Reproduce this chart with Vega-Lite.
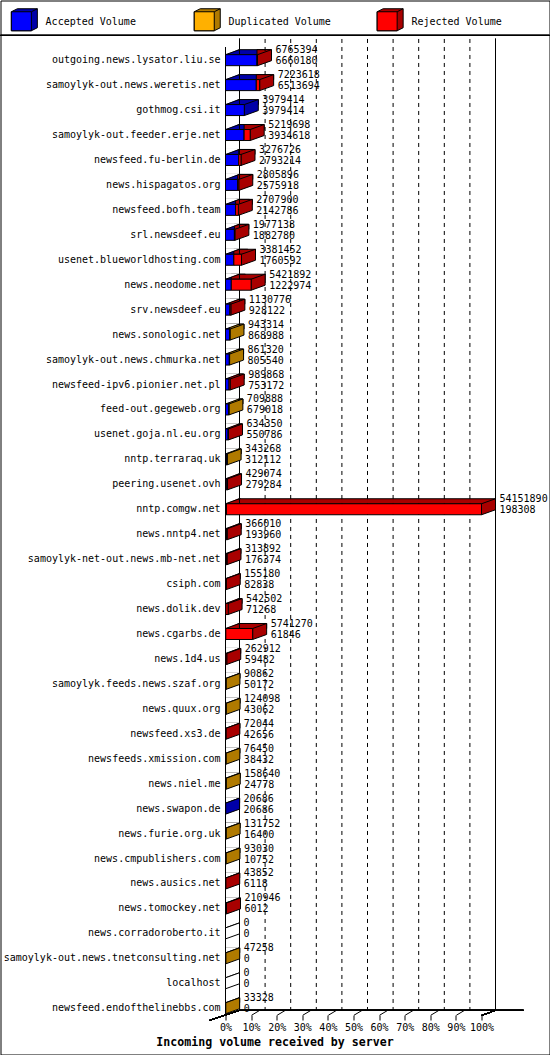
{
  "$schema": "https://vega.github.io/schema/vega-lite/v6.json",
  "autosize": "none",
  "width": 549,
  "height": 1054,
  "padding": 0.5,
  "background": "white",
  "config": {
    "view": {"stroke": "black", "strokeWidth": 1},
    "font": "DejaVu Sans Mono"
  },
  "datasets": {
    "grid": [
      {"p": 5415189}, {"p": 10830378}, {"p": 16245567}, {"p": 21660756}, {"p": 27075945},
      {"p": 32491134}, {"p": 37906323}, {"p": 43321512}, {"p": 48736701}
    ]
  },
  "data": {
    "values": [
      {"h": "outgoing.news.lysator.liu.se", "Accepted Volume": 6660180, "Duplicated Volume": 0, "Rejected Volume": 105214, "t": 6765394, "last": "Rejected Volume"},
      {"h": "samoylyk-out.news.weretis.net", "Accepted Volume": 6513694, "Duplicated Volume": 0, "Rejected Volume": 709924, "t": 7223618, "last": "Rejected Volume"},
      {"h": "gothmog.csi.it", "Accepted Volume": 3979414, "Duplicated Volume": 0, "Rejected Volume": 0, "t": 3979414, "last": "Accepted Volume"},
      {"h": "samoylyk-out.feeder.erje.net", "Accepted Volume": 3934618, "Duplicated Volume": 0, "Rejected Volume": 1285080, "t": 5219698, "last": "Rejected Volume"},
      {"h": "newsfeed.fu-berlin.de", "Accepted Volume": 2793214, "Duplicated Volume": 0, "Rejected Volume": 483512, "t": 3276726, "last": "Rejected Volume"},
      {"h": "news.hispagatos.org", "Accepted Volume": 2575918, "Duplicated Volume": 0, "Rejected Volume": 229978, "t": 2805896, "last": "Rejected Volume"},
      {"h": "newsfeed.bofh.team", "Accepted Volume": 2142786, "Duplicated Volume": 0, "Rejected Volume": 565114, "t": 2707900, "last": "Rejected Volume"},
      {"h": "srl.newsdeef.eu", "Accepted Volume": 1882780, "Duplicated Volume": 0, "Rejected Volume": 94358, "t": 1977138, "last": "Rejected Volume"},
      {"h": "usenet.blueworldhosting.com", "Accepted Volume": 1760592, "Duplicated Volume": 0, "Rejected Volume": 1620860, "t": 3381452, "last": "Rejected Volume"},
      {"h": "news.neodome.net", "Accepted Volume": 1222974, "Duplicated Volume": 0, "Rejected Volume": 4198918, "t": 5421892, "last": "Rejected Volume"},
      {"h": "srv.newsdeef.eu", "Accepted Volume": 928122, "Duplicated Volume": 0, "Rejected Volume": 202654, "t": 1130776, "last": "Rejected Volume"},
      {"h": "news.sonologic.net", "Accepted Volume": 868988, "Duplicated Volume": 74326, "Rejected Volume": 0, "t": 943314, "last": "Duplicated Volume"},
      {"h": "samoylyk-out.news.chmurka.net", "Accepted Volume": 805540, "Duplicated Volume": 55780, "Rejected Volume": 0, "t": 861320, "last": "Duplicated Volume"},
      {"h": "newsfeed-ipv6.pionier.net.pl", "Accepted Volume": 753172, "Duplicated Volume": 0, "Rejected Volume": 236696, "t": 989868, "last": "Rejected Volume"},
      {"h": "feed-out.gegeweb.org", "Accepted Volume": 679018, "Duplicated Volume": 30870, "Rejected Volume": 0, "t": 709888, "last": "Duplicated Volume"},
      {"h": "usenet.goja.nl.eu.org", "Accepted Volume": 550786, "Duplicated Volume": 0, "Rejected Volume": 83564, "t": 634350, "last": "Rejected Volume"},
      {"h": "nntp.terraraq.uk", "Accepted Volume": 312112, "Duplicated Volume": 31156, "Rejected Volume": 0, "t": 343268, "last": "Duplicated Volume"},
      {"h": "peering.usenet.ovh", "Accepted Volume": 279284, "Duplicated Volume": 0, "Rejected Volume": 149790, "t": 429074, "last": "Rejected Volume"},
      {"h": "nntp.comgw.net", "Accepted Volume": 198308, "Duplicated Volume": 0, "Rejected Volume": 53953582, "t": 54151890, "last": "Rejected Volume"},
      {"h": "news.nntp4.net", "Accepted Volume": 193960, "Duplicated Volume": 0, "Rejected Volume": 172050, "t": 366010, "last": "Rejected Volume"},
      {"h": "samoylyk-net-out.news.mb-net.net", "Accepted Volume": 176374, "Duplicated Volume": 0, "Rejected Volume": 137518, "t": 313892, "last": "Rejected Volume"},
      {"h": "csiph.com", "Accepted Volume": 82838, "Duplicated Volume": 0, "Rejected Volume": 72342, "t": 155180, "last": "Rejected Volume"},
      {"h": "news.dolik.dev", "Accepted Volume": 71268, "Duplicated Volume": 0, "Rejected Volume": 471234, "t": 542502, "last": "Rejected Volume"},
      {"h": "news.cgarbs.de", "Accepted Volume": 61846, "Duplicated Volume": 0, "Rejected Volume": 5679424, "t": 5741270, "last": "Rejected Volume"},
      {"h": "news.1d4.us", "Accepted Volume": 59482, "Duplicated Volume": 0, "Rejected Volume": 203430, "t": 262912, "last": "Rejected Volume"},
      {"h": "samoylyk.feeds.news.szaf.org", "Accepted Volume": 50172, "Duplicated Volume": 40690, "Rejected Volume": 0, "t": 90862, "last": "Duplicated Volume"},
      {"h": "news.quux.org", "Accepted Volume": 43062, "Duplicated Volume": 81036, "Rejected Volume": 0, "t": 124098, "last": "Duplicated Volume"},
      {"h": "newsfeed.xs3.de", "Accepted Volume": 42656, "Duplicated Volume": 0, "Rejected Volume": 29388, "t": 72044, "last": "Rejected Volume"},
      {"h": "newsfeeds.xmission.com", "Accepted Volume": 38432, "Duplicated Volume": 38018, "Rejected Volume": 0, "t": 76450, "last": "Duplicated Volume"},
      {"h": "news.niel.me", "Accepted Volume": 24778, "Duplicated Volume": 133862, "Rejected Volume": 0, "t": 158640, "last": "Duplicated Volume"},
      {"h": "news.swapon.de", "Accepted Volume": 20686, "Duplicated Volume": 0, "Rejected Volume": 0, "t": 20686, "last": "Accepted Volume"},
      {"h": "news.furie.org.uk", "Accepted Volume": 16400, "Duplicated Volume": 115352, "Rejected Volume": 0, "t": 131752, "last": "Duplicated Volume"},
      {"h": "news.cmpublishers.com", "Accepted Volume": 10752, "Duplicated Volume": 82278, "Rejected Volume": 0, "t": 93030, "last": "Duplicated Volume"},
      {"h": "news.ausics.net", "Accepted Volume": 6118, "Duplicated Volume": 0, "Rejected Volume": 37734, "t": 43852, "last": "Rejected Volume"},
      {"h": "news.tomockey.net", "Accepted Volume": 6012, "Duplicated Volume": 0, "Rejected Volume": 204934, "t": 210946, "last": "Rejected Volume"},
      {"h": "news.corradoroberto.it", "Accepted Volume": 0, "Duplicated Volume": 0, "Rejected Volume": 0, "t": 0, "last": "none"},
      {"h": "samoylyk-out.news.tnetconsulting.net", "Accepted Volume": 0, "Duplicated Volume": 47258, "Rejected Volume": 0, "t": 47258, "last": "Duplicated Volume"},
      {"h": "localhost", "Accepted Volume": 0, "Duplicated Volume": 0, "Rejected Volume": 0, "t": 0, "last": "none"},
      {"h": "newsfeed.endofthelinebbs.com", "Accepted Volume": 0, "Duplicated Volume": 33328, "Rejected Volume": 0, "t": 33328, "last": "Duplicated Volume"}
    ]
  },
  "layer": [
    {
      "transform": [
        {"fold": ["Accepted Volume", "Duplicated Volume", "Rejected Volume"], "as": ["k", "v"]},
        {"filter": "datum.v > 0"},
        {"stack": "v", "groupby": ["h"], "sort": [{"field": "k", "order": "ascending"}], "as": ["v0", "v1"]}
      ],
      "mark": {"type": "bar", "height": 5, "yOffset": -8, "xOffset": -14, "x2Offset": 0, "stroke": "black", "strokeWidth": 1},
      "encoding": {
        "y": {
          "field": "h", "type": "nominal",
          "scale": {
            "domain": ["outgoing.news.lysator.liu.se", "samoylyk-out.news.weretis.net", "gothmog.csi.it", "samoylyk-out.feeder.erje.net", "newsfeed.fu-berlin.de", "news.hispagatos.org", "newsfeed.bofh.team", "srl.newsdeef.eu", "usenet.blueworldhosting.com", "news.neodome.net", "srv.newsdeef.eu", "news.sonologic.net", "samoylyk-out.news.chmurka.net", "newsfeed-ipv6.pionier.net.pl", "feed-out.gegeweb.org", "usenet.goja.nl.eu.org", "nntp.terraraq.uk", "peering.usenet.ovh", "nntp.comgw.net", "news.nntp4.net", "samoylyk-net-out.news.mb-net.net", "csiph.com", "news.dolik.dev", "news.cgarbs.de", "news.1d4.us", "samoylyk.feeds.news.szaf.org", "news.quux.org", "newsfeed.xs3.de", "newsfeeds.xmission.com", "news.niel.me", "news.swapon.de", "news.furie.org.uk", "news.cmpublishers.com", "news.ausics.net", "news.tomockey.net", "news.corradoroberto.it", "samoylyk-out.news.tnetconsulting.net", "localhost", "newsfeed.endofthelinebbs.com"],
            "range": [47.2, 1020.2],
            "paddingInner": 0,
            "paddingOuter": 0
          },
          "axis": {
            "title": null, "orient": "left", "offset": -223.5, "domain": false, "ticks": false, "tickSize": 0,
            "labelPadding": 4, "labelFont": "DejaVu Sans Mono", "labelFontSize": 10, "labelColor": "black", "labelLimit": 0, "grid": false
          }
        },
        "x": {
          "field": "v0", "type": "quantitative",
          "scale": {"domain": [0, 54151890], "range": [239, 495], "nice": false, "zero": false},
          "axis": {
            "orient": "bottom", "offset": -39.5, "grid": false, "domain": false,
            "values": [0, 5415189, 10830378, 16245567, 21660756, 27075945, 32491134, 37906323, 43321512, 48736701, 54151890],
            "labelExpr": "round(datum.value / 541518.9) + '%'",
            "ticks": true, "tickSize": 5, "tickOffset": -14, "tickColor": "black",
            "labelPadding": 2, "labelFont": "DejaVu Sans Mono", "labelFontSize": 10, "labelColor": "black", "labelFlush": false, "labelOverlap": false,
            "title": "Incoming volume received by server",
            "titleFont": "DejaVu Sans Mono", "titleFontWeight": "bold", "titleFontSize": 11.6, "titleColor": "black",
            "titleX": 274, "titleY": 27, "titleAlign": "center", "titleBaseline": "middle", "titleAngle": 0
          }
        },
        "x2": {"field": "v1"},
        "fill": {
          "field": "k", "type": "nominal",
          "scale": {
            "domain": ["Accepted Volume", "Duplicated Volume", "Rejected Volume", "none"],
            "range": ["#0000a8", "#b07a00", "#a80000", "#ffffff"]
          },
          "legend": {
            "orient": "none", "legendX": 9.35, "legendY": 6.5, "direction": "horizontal", "columns": 3, "title": null,
            "values": ["Accepted Volume", "Duplicated Volume", "Rejected Volume"],
            "symbolType": "M -0.929 -0.714 L -0.5 -0.929 L 0.929 -0.929 L 0.929 0.429 L 0.5 0.643 L -0.929 0.643 Z M 0.5 -0.714 L 0.929 -0.929",
            "symbolSize": 784, "symbolStrokeColor": "black", "symbolStrokeWidth": 1, "symbolOpacity": 1,
            "labelFont": "DejaVu Sans Mono", "labelFontSize": 10, "labelColor": "black", "labelOffset": 6.75,
            "columnPadding": 42.9, "gridAlign": "all", "padding": 0, "labelLimit": 0
          }
        }
      }
    },
    {
      "mark": {"type": "rule", "color": "black", "strokeWidth": 1, "yOffset": -24.7},
      "encoding": {"y": {"datum": "outgoing.news.lysator.liu.se", "type": "nominal"}}
    },
    {
      "data": {"name": "grid"},
      "mark": {"type": "rule", "color": "black", "strokeWidth": 1, "strokeDash": [4, 4], "yOffset": -21.2, "y2Offset": 2},
      "encoding": {
        "x": {"field": "p", "type": "quantitative"},
        "y": {"datum": "outgoing.news.lysator.liu.se", "type": "nominal"},
        "y2": {"datum": "newsfeed.endofthelinebbs.com"}
      }
    },
    {
      "data": {"name": "grid"},
      "mark": {"type": "point", "shape": "M -1 0.6 L 1 -0.6", "size": 64, "filled": false, "color": "black", "strokeWidth": 1, "opacity": 1, "xOffset": -9.5, "yOffset": 4.6},
      "encoding": {
        "x": {"field": "p", "type": "quantitative"},
        "y": {"datum": "newsfeed.endofthelinebbs.com", "type": "nominal"}
      }
    },
    {
      "mark": {"type": "rule", "color": "black", "strokeWidth": 1, "yOffset": -21.2, "y2Offset": 2},
      "encoding": {
        "x": {"datum": 0, "type": "quantitative"},
        "y": {"datum": "outgoing.news.lysator.liu.se", "type": "nominal"},
        "y2": {"datum": "newsfeed.endofthelinebbs.com"}
      }
    },
    {
      "mark": {"type": "rule", "color": "black", "strokeWidth": 1, "yOffset": -21.2, "y2Offset": 2},
      "encoding": {
        "x": {"datum": 54151890, "type": "quantitative"},
        "y": {"datum": "outgoing.news.lysator.liu.se", "type": "nominal"},
        "y2": {"datum": "newsfeed.endofthelinebbs.com"}
      }
    },
    {
      "mark": {"type": "rule", "color": "black", "strokeWidth": 1, "yOffset": 2.2, "x2Offset": 28},
      "encoding": {
        "x": {"datum": 0, "type": "quantitative"},
        "x2": {"datum": 54151890},
        "y": {"datum": "newsfeed.endofthelinebbs.com", "type": "nominal"}
      }
    },
    {
      "mark": {"type": "point", "shape": "M -1 0.333 L 1 -0.333", "size": 900, "filled": false, "color": "black", "strokeWidth": 1, "opacity": 1, "xOffset": -15, "yOffset": 7.2},
      "encoding": {
        "x": {"datum": 0, "type": "quantitative"},
        "y": {"datum": "newsfeed.endofthelinebbs.com", "type": "nominal"}
      }
    },
    {
      "mark": {"type": "point", "shape": "M -1 0.357 L 1 -0.357", "size": 196, "filled": false, "color": "black", "strokeWidth": 1, "opacity": 1, "xOffset": -7, "yOffset": 4.7},
      "encoding": {
        "x": {"datum": 54151890, "type": "quantitative"},
        "y": {"datum": "newsfeed.endofthelinebbs.com", "type": "nominal"}
      }
    },
    {
      "mark": {"type": "point", "shape": "M -0.875 0.3125 L -0.875 -0.4 L 0.875 -0.4 Z", "size": 256, "filled": true, "fill": "white", "strokeWidth": 0, "opacity": 1, "xOffset": -7, "yOffset": -8},
      "encoding": {
        "x": {"datum": 0, "type": "quantitative"},
        "y": {"field": "h", "type": "nominal"}
      }
    },
    {
      "mark": {"type": "point", "shape": "M -0.875 0.3125 L 0.875 -0.3125", "size": 256, "filled": false, "color": "black", "strokeWidth": 1, "opacity": 1, "xOffset": -7, "yOffset": -8},
      "encoding": {
        "x": {"datum": 0, "type": "quantitative"},
        "y": {"field": "h", "type": "nominal"}
      }
    },
    {
      "mark": {"type": "rule", "color": "black", "strokeWidth": 1, "xOffset": -14, "yOffset": -13, "y2Offset": 7},
      "encoding": {
        "x": {"datum": 0, "type": "quantitative"},
        "y": {"datum": "outgoing.news.lysator.liu.se", "type": "nominal"},
        "y2": {"datum": "newsfeed.endofthelinebbs.com"}
      }
    },
    {
      "mark": {"type": "point", "shape": "M -0.875 -0.375 L 0.875 -1 L 0.875 0.375 L -0.875 1 Z", "size": 256, "filled": true, "stroke": "black", "strokeWidth": 1, "opacity": 1, "xOffset": -7, "yOffset": -2.5},
      "encoding": {
        "x": {"field": "t", "type": "quantitative"},
        "y": {"field": "h", "type": "nominal"},
        "fill": {"field": "last", "type": "nominal", "legend": null}
      }
    },
    {
      "transform": [
        {"fold": ["Accepted Volume", "Duplicated Volume", "Rejected Volume"], "as": ["k", "v"]},
        {"filter": "datum.v > 0"},
        {"stack": "v", "groupby": ["h"], "sort": [{"field": "k", "order": "ascending"}], "as": ["v0", "v1"]}
      ],
      "mark": {"type": "bar", "height": 11, "xOffset": -14, "x2Offset": -14, "stroke": "black", "strokeWidth": 1},
      "encoding": {
        "y": {"field": "h", "type": "nominal"},
        "x": {"field": "v0", "type": "quantitative"},
        "x2": {"field": "v1"},
        "color": {
          "field": "k", "type": "nominal",
          "scale": {
            "domain": ["Accepted Volume", "Duplicated Volume", "Rejected Volume"],
            "range": ["#0000ff", "#ffb000", "#ff0000"]
          },
          "legend": {
            "orient": "none", "legendX": 9.35, "legendY": 6.5, "direction": "horizontal", "columns": 3, "title": null,
            "symbolType": "M -0.929 -0.714 L 0.5 -0.714 L 0.5 0.643 L -0.929 0.643 Z",
            "symbolSize": 784, "symbolStrokeColor": "black", "symbolStrokeWidth": 1, "symbolOpacity": 1,
            "labelFont": "DejaVu Sans Mono", "labelFontSize": 10, "labelColor": "black", "labelOpacity": 0, "labelOffset": 6.75,
            "columnPadding": 42.9, "gridAlign": "all", "padding": 0, "labelLimit": 0
          }
        }
      }
    },
    {
      "mark": {"type": "text", "font": "DejaVu Sans Mono", "fontSize": 10, "color": "black", "align": "left", "baseline": "middle", "xOffset": 4, "yOffset": -10},
      "encoding": {
        "x": {"field": "t", "type": "quantitative"},
        "y": {"field": "h", "type": "nominal"},
        "text": {"field": "t", "type": "nominal"}
      }
    },
    {
      "mark": {"type": "text", "font": "DejaVu Sans Mono", "fontSize": 10, "color": "black", "align": "left", "baseline": "middle", "xOffset": 4, "yOffset": 1},
      "encoding": {
        "x": {"field": "t", "type": "quantitative"},
        "y": {"field": "h", "type": "nominal"},
        "text": {"field": "Accepted Volume", "type": "nominal"}
      }
    }
  ]
}
